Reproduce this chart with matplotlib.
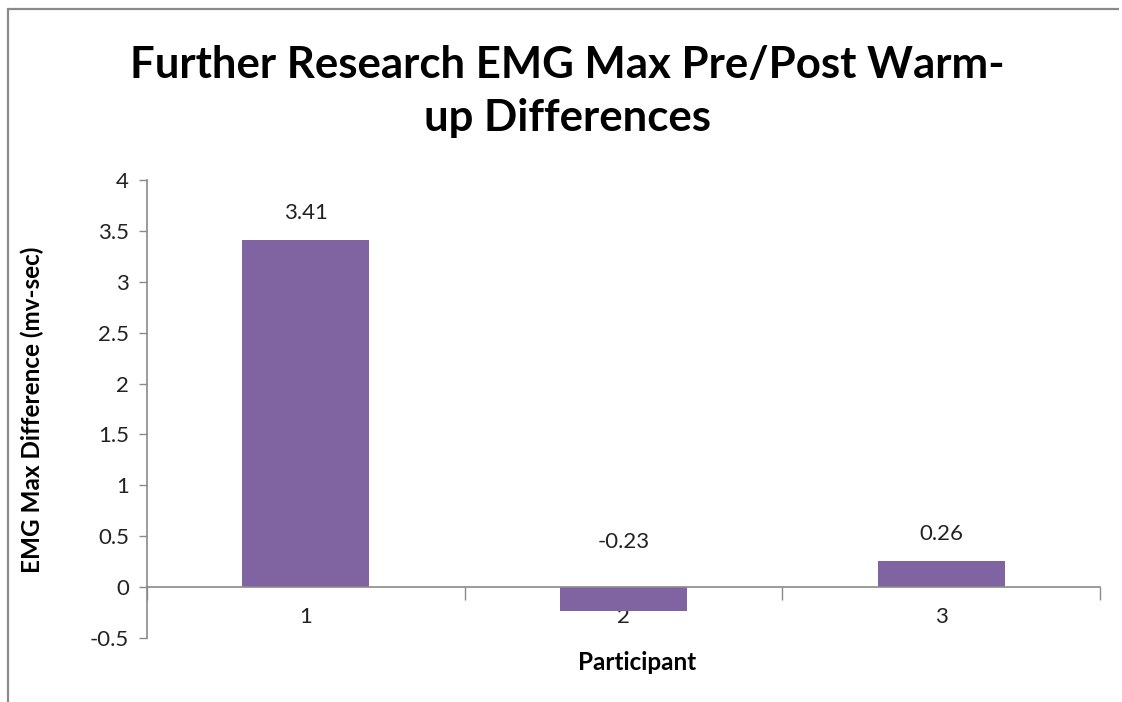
import matplotlib
matplotlib.use("Agg")
import matplotlib.pyplot as plt
from matplotlib.lines import Line2D

categories = ["1", "2", "3"]
values = [3.41, -0.23, 0.26]
value_labels = ["3.41", "-0.23", "0.26"]
yticks = [-0.5, 0, 0.5, 1, 1.5, 2, 2.5, 3, 3.5, 4]
ytick_labels = ["-0.5", "0", "0.5", "1", "1.5", "2", "2.5", "3", "3.5", "4"]

plt.rcParams['font.family'] = ['Lato', 'DejaVu Sans']
W, H = 1122, 702
fig = plt.figure(figsize=(W/100, H/100), dpi=100)
fig.patch.set_facecolor('white')
fig.patch.set_edgecolor('white')
fig.patch.set_linewidth(0)

# outer chart border (top and left only visible)
fig.lines.append(Line2D([8/W, 8/W], [0, 1 - 8.5/H], transform=fig.transFigure,
                        color='#8a8a8a', linewidth=1.6))
fig.lines.append(Line2D([8/W, 1119/W], [1 - 8.5/H, 1 - 8.5/H], transform=fig.transFigure,
                        color='#8a8a8a', linewidth=1.6, solid_capstyle='butt'))

ax = fig.add_axes([147/W, 1 - 638/H, (1100-147)/W, (638-180)/H])
x = list(range(len(categories)))
ax.bar(x, values, width=0.4, color='#8064A2', zorder=2)
ax.set_xlim(-0.5, 2.5)
ax.set_ylim(-0.5, 4)

ax.set_yticks(yticks)
ax.set_yticklabels(ytick_labels)
ax.tick_params(axis='y', length=6, width=1, color='#8a8a8a', pad=7,
               labelsize=16, labelcolor='#222222')

ax.set_xticks([-0.5, 0.5, 1.5, 2.5])
ax.set_xticklabels([])
ax.tick_params(axis='x', which='major', length=9, width=1, color='#8a8a8a', direction='out')
ax.set_xticks(x, minor=True)
ax.set_xticklabels(categories, minor=True)
ax.tick_params(axis='x', which='minor', length=0, pad=14, labelsize=16, labelcolor='#222222')

for s in ['top', 'right']:
    ax.spines[s].set_visible(False)
ax.spines['bottom'].set_position(('data', 0))
ax.spines['bottom'].set_color('#8a8a8a')
ax.spines['left'].set_color('#8a8a8a')
ax.spines['bottom'].set_linewidth(1.2)
ax.spines['left'].set_linewidth(1.2)
ax.spines['bottom'].set_zorder(3)

for xi, v, lab in zip(x, values, value_labels):
    off = 27 if v >= 0 else 45
    ax.annotate(lab, xy=(xi, max(v, 0)), xytext=(0, off*0.72), textcoords='offset points',
                ha='center', va='center', fontsize=16, color='#222222')

fig.text(567/W, 1 - 65/H, "Further Research EMG Max Pre/Post Warm-", ha='center', va='center',
         fontsize=31.5, fontweight='bold', color='black')
fig.text(567/W, 1 - 118/H, "up Differences", ha='center', va='center',
         fontsize=31.5, fontweight='bold', color='black')
fig.text(32/W, 1 - 410/H, "EMG Max Difference (mv-sec)", rotation=90, ha='center', va='center',
         fontsize=17.5, fontweight='bold', color='black')
fig.text(637/W, 1 - 663/H, "Participant", ha='center', va='center',
         fontsize=17.5, fontweight='bold', color='black')

fig.savefig("out.png", dpi=100)
